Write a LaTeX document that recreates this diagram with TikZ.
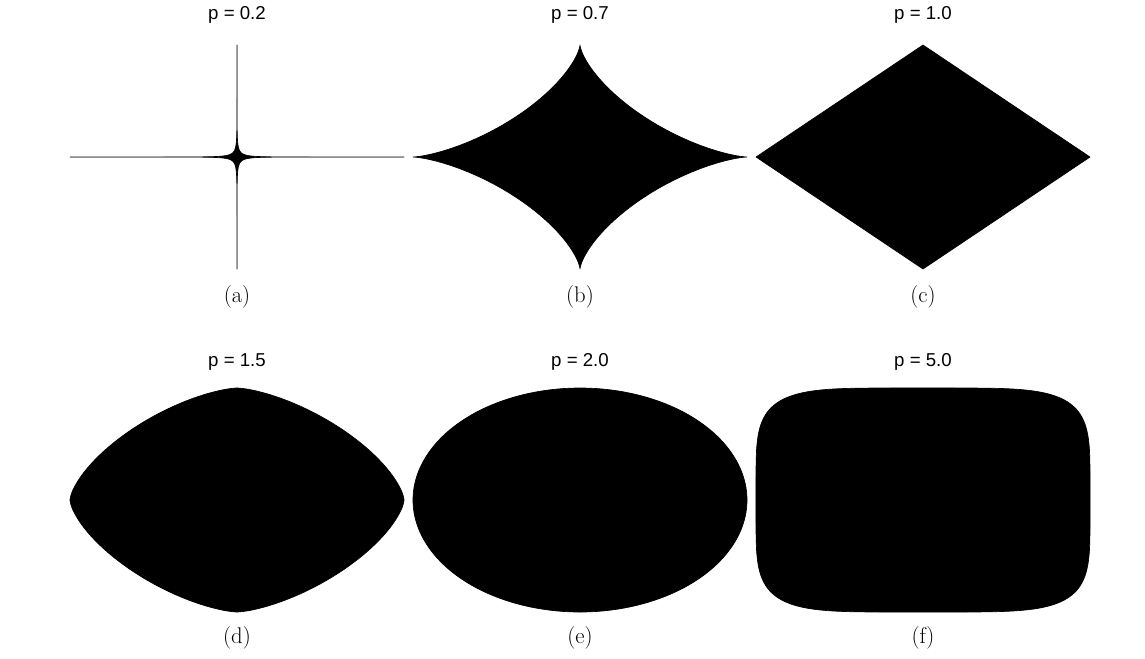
\documentclass[tikz,border=0pt]{standalone}
\usepackage{fontspec}
\newfontfamily\titlefont{Liberation Sans}
\usetikzlibrary{positioning}

\tikzset{
  declare function={
    sx(\t,\q)=(cos(\t)<0?-1:1)*abs(cos(\t))^(2/\q);
    sy(\t,\q)=(sin(\t)<0?-1:1)*abs(sin(\t))^(2/\q);
  },
  title/.style={font=\titlefont\fontsize{14}{16}\selectfont,inner sep=0pt},
  caption/.style={font=\fontsize{17}{20}\selectfont,inner sep=0pt},
  blob/.style={fill=black,draw=black,line width=0.5pt,line join=round}
}

% superellipse |x/a|^p+|y/b|^p=1 around (#1,#2)
\newcommand{\superell}[3]{%
  \fill[blob] plot[domain=0.25:359.75,samples=720,smooth]
    ({#1+167*sx(\x,#3)},{#2+112*sy(\x,#3)}) -- cycle;
}

\begin{document}
\begin{tikzpicture}[x=0.75pt,y=-0.75pt]
        \useasboundingbox (0,0) rectangle (1145,658);
        % top row
        \node[title] (ta) at (237,15) {p = 0.2};
        \node[title] (tb) at (580,15) {p = 0.7};
        \node[title] (tc) at (923,15) {p = 1.0};
        \superell{237}{157}{0.2}
        \superell{580}{157}{0.7}
        \superell{923}{157}{1.0}
        \node[caption] (la) at (237,297) {(a)};
        \node[caption] (lb) at (580,297) {(b)};
        \node[caption] (lc) at (923,297) {(c)};
        % bottom row
        \node[title] (td) at (237,362) {p = 1.5};
        \node[title] (te) at (580,362) {p = 2.0};
        \node[title] (tf) at (923,362) {p = 5.0};
        \superell{237}{500}{1.5}
        \superell{580}{500}{2.0}
        \superell{923}{500}{5.0}
        \node[caption] (ld) at (237,638) {(d)};
        \node[caption] (le) at (580,638) {(e)};
        \node[caption] (lf) at (923,638) {(f)};
    \end{tikzpicture}
\end{document}
